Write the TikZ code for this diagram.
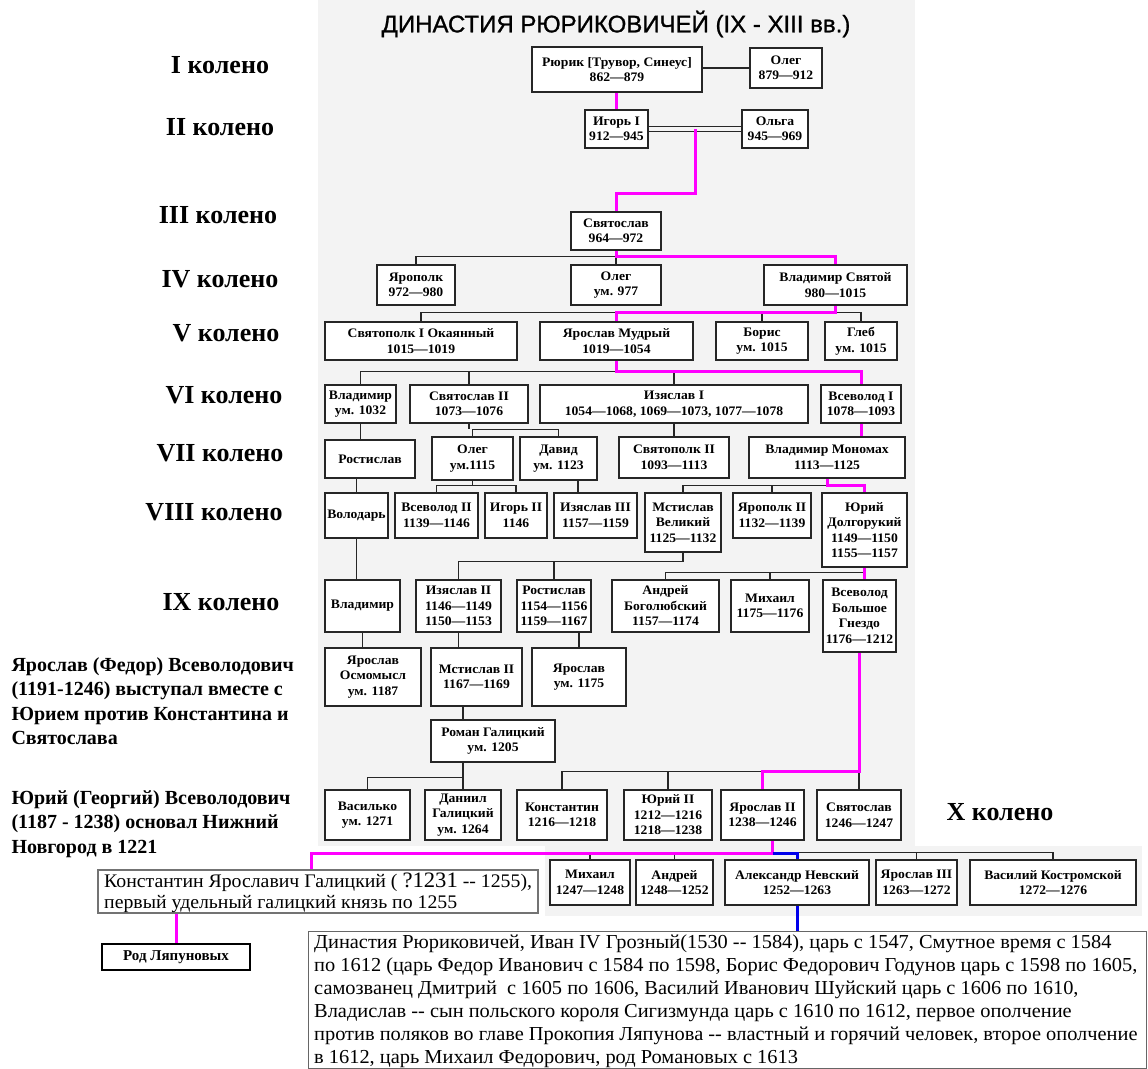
\documentclass[tikz,border=0pt]{standalone}
\usepackage{fontspec}
\setmainfont{Liberation Serif}
\newfontfamily\titlefont{Liberation Sans}[FakeBold=1]
\newfontfamily\boxfont{Liberation Serif}[FakeStretch=1.05]
\newfontfamily\bodyfont{Liberation Serif}[FakeStretch=1.03]
\usetikzlibrary{calc}
\definecolor{mg}{RGB}{255,0,255}
\definecolor{bl}{RGB}{0,0,235}
\definecolor{panel}{RGB}{243,243,243}
\newcommand{\mybox}[6]{\node[box, minimum width={(#4)-(#2)}, minimum height={(#5)-(#3)}] (#1) at ({((#2)+(#4))/2},{((#3)+(#5))/2}) {#6};}
\begin{document}
\begin{tikzpicture}[x=1pt,y=-1pt,
  ln/.style={draw=black!85, line width=1.3pt},
  mag/.style={draw=mg, line width=3pt},
  blu/.style={draw=bl, line width=3pt},
  box/.style={draw=black!85, line width=1.4pt, fill=white, inner sep=0pt, align=center, font=\boxfont\bfseries\fontsize{13}{15.5}\selectfont},
  lvl/.style={font=\bfseries\fontsize{26}{26}\selectfont},
  note/.style={anchor=north west, align=left, font=\bfseries\fontsize{20}{24.5}\selectfont},
]
\useasboundingbox (0,0) rectangle (1148,1068);
\fill[white] (0,0) rectangle (1148,1068);
\fill[panel] (318,0) rectangle (915,846);
\fill[panel] (545,846) rectangle (1142,916);

\node[font=\titlefont\fontsize{24}{24}\selectfont] (title) at (616,24) {ДИНАСТИЯ РЮРИКОВИЧЕЙ (IX - XIII вв.)};

% level labels
\node[lvl] (k1) at (220,65) {I колено};
\node[lvl] (k2) at (220,127) {II колено};
\node[lvl] (k3) at (218,215) {III колено};
\node[lvl] (k4) at (220,279) {IV колено};
\node[lvl] (k5) at (226,333) {V колено};
\node[lvl] (k6) at (224,395) {VI колено};
\node[lvl] (k7) at (220,453) {VII колено};
\node[lvl] (k8) at (214,512) {VIII колено};
\node[lvl] (k9) at (221,602) {IX колено};
\node[lvl] (k10) at (1000,812) {X колено};

\node[note] (n1) at (8,654) {Ярослав (Федор) Всеволодович\\(1191-1246) выступал вместе с\\Юрием против Константина и\\Святослава};
\node[note] (n2) at (8,787) {Юрий (Георгий) Всеволодович\\(1187 - 1238) основал Нижний\\Новгород в 1221};

% row I-III
\mybox{rurik}{532}{47}{702}{92}{Рюрик [Трувор, Синеус]\\862—879}
\mybox{oleg1}{750}{48}{822}{88}{Олег\\879—912}
\mybox{igor}{585}{110}{648}{148}{Игорь I\\912—945}
\mybox{olga}{742}{110}{808}{148}{Ольга\\945—969}
\mybox{svyat}{571}{212}{661}{250}{Святослав\\964—972}
% row IV
\mybox{yaropolk}{377}{265}{455}{305}{Ярополк\\972—980}
\mybox{oleg2}{571}{265}{661}{305}{Олег\\ум. 977}
\mybox{vlad1}{764}{265}{907}{305}{Владимир Святой\\980—1015}
% row V
\mybox{svyatopolk}{325}{322}{517}{360}{Святополк I Окаянный\\1015—1019}
\mybox{yaroslav}{540}{322}{693}{360}{Ярослав Мудрый\\1019—1054}
\mybox{boris}{716}{322}{808}{360}{Борис\\ум. 1015}
\mybox{gleb}{825}{322}{897}{360}{Глеб\\ум. 1015}
% row VI
\mybox{vlad2}{325}{385}{396}{423}{Владимир\\ум. 1032}
\mybox{svyII}{410}{385}{528}{423}{Святослав II\\1073—1076}
\mybox{izI}{540}{385}{808}{423}{Изяслав I\\1054—1068, 1069—1073, 1077—1078}
\mybox{vsevI}{821}{385}{901}{423}{Всеволод I\\1078—1093}
% row VII
\mybox{rost1}{325}{440}{415}{478}{Ростислав}
\mybox{oleg3}{432}{437}{513}{480}{Олег\\ум.1115}
\mybox{david}{520}{437}{597}{480}{Давид\\ум. 1123}
\mybox{svpII}{619}{437}{729}{478}{Святополк II\\1093—1113}
\mybox{monomakh}{749}{437}{905}{478}{Владимир Мономах\\1113—1125}
% row VIII
\mybox{volodar}{325}{493}{388}{538}{Володарь}
\mybox{vsevII}{395}{493}{478}{538}{Всеволод II\\1139—1146}
\mybox{igorII}{485}{493}{547}{538}{Игорь II\\1146}
\mybox{izIII}{554}{493}{637}{538}{Изяслав III\\1157—1159}
\mybox{mstislav}{645}{493}{721}{552}{Мстислав\\Великий\\1125—1132}
\mybox{yaropII}{733}{493}{811}{538}{Ярополк II\\1132—1139}
\mybox{yuri}{822}{493}{907}{567}{Юрий\\Долгорукий\\1149—1150\\1155—1157}
% row IX
\mybox{vlad3}{325}{580}{400}{632}{Владимир}
\mybox{izII}{416}{580}{501}{632}{Изяслав II\\1146—1149\\1150—1153}
\mybox{rost2}{517}{580}{591}{632}{Ростислав\\1154—1156\\1159—1167}
\mybox{andrey}{612}{580}{719}{632}{Андрей\\Боголюбский\\1157—1174}
\mybox{mikhail}{731}{580}{809}{632}{Михаил\\1175—1176}
\mybox{vsevBG}{823}{580}{896}{652}{Всеволод\\Большое\\Гнездо\\1176—1212}
% row X-a
\mybox{yo}{325}{648}{421}{706}{Ярослав\\Осмомысл\\ум. 1187}
\mybox{mII}{431}{648}{522}{706}{Мстислав II\\1167—1169}
\mybox{yar2}{532}{648}{626}{706}{Ярослав\\ум. 1175}
\mybox{roman}{431}{720}{555}{762}{Роман Галицкий\\ум. 1205}
% row X-b
\mybox{vasilko}{325}{790}{410}{840}{Василько\\ум. 1271}
\mybox{daniil}{425}{790}{501}{840}{Даниил\\Галицкий\\ум. 1264}
\mybox{konst}{517}{790}{607}{840}{Константин\\1216—1218}
\mybox{yuriII}{624}{790}{712}{840}{Юрий II\\1212—1216\\1218—1238}
\mybox{yarII}{721}{790}{804}{840}{Ярослав II\\1238—1246}
\mybox{svyat3}{817}{790}{901}{840}{Святослав\\1246—1247}
% bottom row
\mybox{mikh2}{550}{860}{630}{905}{Михаил\\1247—1248}
\mybox{andr2}{636}{860}{713}{905}{Андрей\\1248—1252}
\mybox{alex}{725}{860}{869}{905}{Александр Невский\\1252—1263}
\mybox{yarIII}{876}{860}{957}{905}{Ярослав III\\1263—1272}
\mybox{vasiliy}{970}{860}{1136}{905}{Василий Костромской\\1272—1276}

\node[draw=black!55, line width=1.2pt, fill=white, minimum width=440, minimum height=43, inner sep=0pt] (kya) at (318,891.5) {};
\node[anchor=north west, align=left, inner sep=0pt, font=\bodyfont\fontsize{19.2}{21}\selectfont] (kyatext) at (104,873) {Константин Ярославич Галицкий ( {\fontsize{22}{21}\selectfont ?1231} -{}- 1255),\\первый удельный галицкий князь по 1255};
\node[draw=black, line width=2.5pt, fill=white, minimum width=148, minimum height=26, inner sep=0pt, font=\bfseries\fontsize{15}{15}\selectfont] (lyap) at (176,957) {Род Ляпуновых};

\node[draw=black!60, line width=1pt, fill=white, minimum width=838, minimum height=137, inner sep=0pt] (bottombox) at (727,999.5) {};
\node[anchor=north west, align=left, inner sep=0pt, font=\bodyfont\fontsize{19.8}{23}\selectfont] (btext) at (314,935) {Династия Рюриковичей, Иван IV Грозный(1530 -{}- 1584), царь с 1547, Смутное время с 1584\\по 1612 (царь Федор Иванович с 1584 по 1598, Борис Федорович Годунов царь с 1598 по 1605,\\самозванец Дмитрий~ с 1605 по 1606, Василий Иванович Шуйский царь с 1606 по 1610,\\Владислав -{}- сын польского короля Сигизмунда царь с 1610 по 1612, первое ополчение\\против поляков во главе Прокопия Ляпунова -{}- властный и горячий человек, второе ополчение\\в 1612, царь Михаил Федорович, род Романовых с 1613};

% helper coordinates
\coordinate (dx) at (578,0);
\coordinate (kyaTop) at ($(kya.north west)+(214,0)$);
\coordinate (yd) at ([xshift=10pt]yarII.south);
\coordinate (m1) at ($(igor.east)!0.5!(olga.west)$);

% ---------- black connectors
\draw[ln] (rurik.east |- oleg1.west) -- (oleg1.west);
\draw[ln, double=panel, double distance=4pt, line width=1pt] (igor.east) -- (olga.west);
\draw[ln] (yaropolk.north) -- ++(0,-8) -| (vlad1.north);
\draw[ln] (svyat.south) -- (oleg2.north);
\draw[ln] (svyatopolk.north) -- ++(0,-9) -| (gleb.north);
\draw[ln] (boris.north) -- ++(0,-9);
\draw[ln] (yaroslav.north) -- ++(0,-9);
\draw[ln] (vlad2.north) -- ++(0,-13) -| (vsevI.north);
\draw[ln] (svyII.north) -- ++(0,-13);
\draw[ln] (izI.north) -- ++(0,-13);
\draw[ln] (vlad2.south) -- (vlad2.south |- rost1.north);
\draw[ln] (oleg3.north) -- ++(0,-7) -| (david.north);
\draw[ln] (svyII.south) -- ([yshift=7pt]svyII.south |- oleg3.north);
\draw[ln] (izI.south) -- (izI.south |- svpII.north);
\draw[ln] (volodar.north) -- (volodar.north |- rost1.south);
\draw[ln] (vsevII.north) -- ++(0,-7) -| (igorII.north);
\draw[ln] (oleg3.south) -- ([yshift=7pt]oleg3.south |- vsevII.north);
\draw[ln] (david.south -| dx) -- (izIII.north -| dx);
\draw[ln] (mstislav.north) -- ++(0,-7) -| (monomakh.south);
\draw[ln] (yaropII.north) -- ++(0,-7);
\draw[ln] (volodar.south) -- (volodar.south |- vlad3.north);
\draw[ln] (izII.north) -- ++(0,-18) -| (mstislav.south);
\draw[ln] (rost2.north) -- ++(0,-18);
\draw[ln] (andrey.north) -- ++(0,-7) -| (yuri.south);
\draw[ln] (mikhail.north) -- ++(0,-7);
\draw[ln] (vlad3.south) -- (vlad3.south |- yo.north);
\draw[ln] (izII.south) -- (izII.south |- mII.north);
\draw[ln] (yar2.north) -- (yar2.north |- rost2.south);
\draw[ln] (mII.south -| daniil.north) -- (roman.north -| daniil.north);
\draw[ln] (daniil.north) -- (daniil.north |- roman.south);
\draw[ln] (vasilko.north) -- ++(0,-12) -| (daniil.north);
\draw[ln] (konst.north) -- ++(0,-18) -| (svyat3.north);
\draw[ln] (yuriII.north) -- ++(0,-18);
\draw[ln] (vsevBG.south) -- (vsevBG.south |- svyat3.north);
\draw[ln] (mikh2.north) -- ++(0,-7) -| (vasiliy.north);
\draw[ln] (andr2.north) -- ++(0,-7);
\draw[ln] (yarIII.north) -- ++(0,-7);

% ---------- magenta line of descent
\draw[mag] (rurik.south -| igor.north) -- (igor.north);
\draw[mag] (m1) -- ++(0,64) -| (svyat.north);
\draw[mag] (svyat.south) |- ([yshift=8pt]vlad1.north) -- (vlad1.north);
\draw[mag] (vlad1.south) |- ([yshift=9pt]yaroslav.north) -- (yaroslav.north);
\draw[mag] (yaroslav.south) |- ([yshift=13pt]vsevI.north) -- (vsevI.north);
\draw[mag] (vsevI.south) -- (vsevI.south |- monomakh.north);
\draw[mag] (monomakh.south) |- ([yshift=7pt]yuri.north) -- (yuri.north);
\draw[mag] (yuri.south) -- (yuri.south |- vsevBG.north);
\draw[mag] (vsevBG.south) |- ([yshift=18pt]yarII.north) -- (yarII.north);
\draw[mag] (yd) -- ++(0,13) -| (kyaTop);
\draw[mag] (kya.south -| lyap.north) -- (lyap.north);
% ---------- blue
\draw[blu] ([yshift=-13pt]yd) -| (alex.north);
\draw[blu] (alex.south) -- (alex.south |- bottombox.north);
\end{tikzpicture}
\end{document}
